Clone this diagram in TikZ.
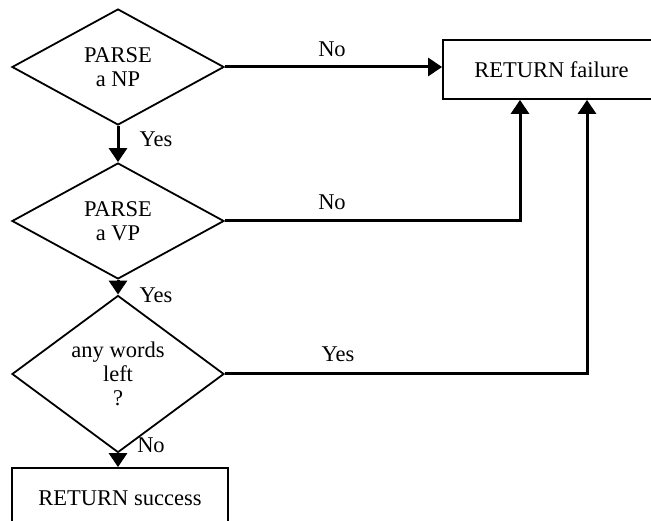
\documentclass[tikz,border=0pt]{standalone}
\usepackage{fontspec}
\setmainfont{Liberation Serif}
\usetikzlibrary{shapes.geometric,arrows.meta}
\begin{document}
\begin{tikzpicture}[x=1pt,y=-1pt,
  txt/.style={font=\fontsize{22.5}{24}\selectfont},
  dec/.style={diamond, draw, line width=1.8pt, minimum width=212pt, minimum height=116pt, inner sep=0pt, align=center, txt},
  box/.style={rectangle, draw, line width=1.8pt, inner sep=0pt, txt},
  conn/.style={line width=3pt, -{Triangle[length=14pt,width=18pt]}},
  lbl/.style={anchor=base, inner sep=0pt, txt}]
\useasboundingbox (0,0) rectangle (651,521);
\clip (0,0) rectangle (651,521);
\node[dec] (d1) at (118,67) {PARSE\\a NP};
\node[dec] (d2) at (118,221) {PARSE\\a VP};
\node[dec, minimum height=118pt] (d3) at (118,374) {any words\\left\\?};
\node[box, minimum width=217pt, minimum height=59pt] (fail) at (551.5,69.5) {RETURN failure};
\node[box, minimum width=216pt, minimum height=60pt] (ok) at (120,498) {RETURN success};
\draw[conn] (d1.south) -- (d2.north);
\draw[conn] (d2.south) -- (d3.north);
\draw[conn] (d3.south) -- (d3.south |- ok.north);
\draw[conn] (d1.east) -- (d1.east -| fail.west);
\draw[conn] (d2.east) -| ([xshift=-31.5pt]fail.south);
\draw[conn] (d3.east) -| ([xshift=35.5pt]fail.south);
\node[lbl] (no1) at (332,57) {No};
\node[lbl] (no2) at (332,210) {No};
\node[lbl] (yes3) at (338,362) {Yes};
\node[lbl] (yes1) at (156,147) {Yes};
\node[lbl] (yes2) at (156,303) {Yes};
\node[lbl] (no3) at (151,453) {No};
\end{tikzpicture}
\end{document}
